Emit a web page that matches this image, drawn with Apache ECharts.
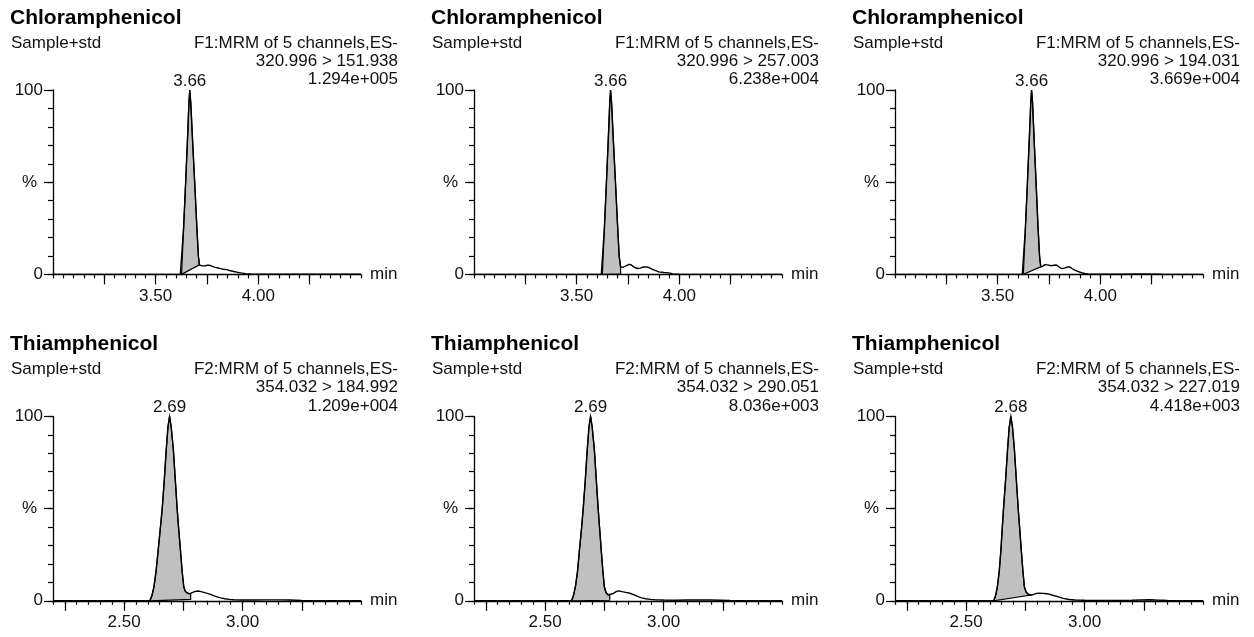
<!DOCTYPE html>
<html><head><meta charset="utf-8">
<script src="https://cdn.jsdelivr.net/npm/echarts@6/dist/echarts.min.js"></script>
<style>html,body{margin:0;padding:0;background:#fff}#c{width:1254px;height:637px}</style>
</head><body><div id="c"></div>
<script>
// ---------- DATA ----------
const compounds = ['Chloramphenicol','Chloramphenicol','Chloramphenicol','Thiamphenicol','Thiamphenicol','Thiamphenicol'];
const sampleNames = ['Sample+std','Sample+std','Sample+std','Sample+std','Sample+std','Sample+std'];
const functions = ['F1:MRM of 5 channels,ES-','F1:MRM of 5 channels,ES-','F1:MRM of 5 channels,ES-','F2:MRM of 5 channels,ES-','F2:MRM of 5 channels,ES-','F2:MRM of 5 channels,ES-'];
const transitions = ['320.996 > 151.938','320.996 > 257.003','320.996 > 194.031','354.032 > 184.992','354.032 > 290.051','354.032 > 227.019'];
const intensities = ['1.294e+005','6.238e+004','3.669e+004','1.209e+004','8.036e+003','4.418e+003'];
const peakRT = [3.666, 3.665, 3.665, 2.692, 2.692, 2.689];
const peakLabels = ['3.66','3.66','3.66','2.69','2.69','2.68'];

// x-axis ranges (min)
const xMinCAP = 3.0, xMaxCAP = 4.5;
const xMinTAP = 2.2, xMaxTAP = 3.5;
const majorTicksCAP = [3.25, 3.5, 3.75, 4.0, 4.25];
const majorTicksTAP = [2.25, 2.5, 2.75, 3.0, 3.25];
const tickLabelsCAP = [3.5, 4.0];
const tickLabelsTAP = [2.5, 3.0];
const yTickLabels = ['0', '%', '100'];

// chromatogram traces [time, % intensity]
const trace1 = [[3.00,0],[3.50,0],[3.62,0],[3.626,0],[3.636,25],[3.646,50],[3.656,76],[3.662,93],[3.666,100],[3.671,93],[3.68,72],[3.69,50],[3.70,27],[3.708,10],[3.713,5.2],[3.725,4.6],[3.74,4.7],[3.755,5.0],[3.767,4.8],[3.78,4.2],[3.79,3.8],[3.80,3.6],[3.815,3.1],[3.83,2.8],[3.847,2.6],[3.86,2.1],[3.88,1.6],[3.896,1.2],[3.915,0.8],[3.937,0.4],[3.96,0.2],[4.0,0.1],[4.2,0.1],[4.5,0.05]];
const trace2 = [[3.00,0],[3.62,0],[3.625,0],[3.635,25],[3.645,50],[3.655,76],[3.661,93],[3.665,100],[3.670,93],[3.679,72],[3.689,50],[3.699,27],[3.707,10],[3.714,4.1],[3.725,3.8],[3.74,4.6],[3.755,5.4],[3.765,5.2],[3.78,4.0],[3.795,3.2],[3.81,3.4],[3.825,4.0],[3.84,4.1],[3.855,3.6],[3.867,2.9],[3.885,2.0],[3.90,1.4],[3.925,1.0],[3.948,0.8],[3.97,0.3],[4.0,0.1],[4.5,0]];
const trace3 = [[3.00,0],[3.62,0],[3.625,0],[3.635,25],[3.645,50],[3.655,76],[3.661,93],[3.665,100],[3.670,93],[3.678,72],[3.687,50],[3.696,27],[3.704,10],[3.710,4.1],[3.72,4.4],[3.73,5.3],[3.738,5.4],[3.748,5.0],[3.762,4.7],[3.775,5.0],[3.786,5.1],[3.80,4.0],[3.81,3.2],[3.825,3.4],[3.84,4.0],[3.851,4.1],[3.862,3.2],[3.875,2.3],[3.89,1.6],[3.908,0.9],[3.925,0.5],[3.94,0.2],[3.97,0.1],[4.1,0.1],[4.2,0.2],[4.3,0.1],[4.5,0]];
const trace4 = [[2.20,0],[2.55,0],[2.609,0],[2.618,3],[2.626,7.6],[2.635,16],[2.644,27.5],[2.652,38],[2.661,50],[2.67,66],[2.678,82],[2.685,94],[2.692,100],[2.699,94],[2.708,82],[2.716,66],[2.724,50],[2.731,38],[2.738,27.5],[2.745,16],[2.752,7.6],[2.758,5.2],[2.765,4.3],[2.772,3.9],[2.781,4.0],[2.79,4.6],[2.80,5.1],[2.812,5.3],[2.825,5.0],[2.84,4.4],[2.855,3.9],[2.865,3.5],[2.88,2.7],[2.893,2.1],[2.907,1.6],[2.925,1.1],[2.945,0.8],[2.963,0.6],[3.0,0.4],[3.05,0.4],[3.1,0.5],[3.15,0.5],[3.2,0.4],[3.25,0.2],[3.3,0.1],[3.5,0]];
const trace5 = [[2.20,0],[2.55,0],[2.612,0],[2.62,3],[2.628,7.6],[2.637,16],[2.645,27.5],[2.653,38],[2.661,50],[2.67,66],[2.678,82],[2.685,94],[2.692,100],[2.699,94],[2.708,82],[2.716,66],[2.724,50],[2.731,38],[2.737,27.5],[2.744,16],[2.75,7.6],[2.757,4.5],[2.765,3.3],[2.773,3.0],[2.785,3.8],[2.80,5.0],[2.811,5.4],[2.825,5.0],[2.84,4.6],[2.855,4.2],[2.865,3.8],[2.88,3.0],[2.893,2.3],[2.907,1.6],[2.925,1.1],[2.945,0.8],[2.963,0.6],[3.0,0.4],[3.05,0.3],[3.1,0.4],[3.2,0.4],[3.28,0.2],[3.35,0.1],[3.5,0]];
const trace6 = [[2.20,0],[2.55,0],[2.617,0],[2.625,3],[2.632,7.6],[2.64,16],[2.647,27.5],[2.652,38],[2.658,50],[2.667,66],[2.675,82],[2.682,94],[2.689,100],[2.696,94],[2.704,82],[2.712,66],[2.72,50],[2.727,38],[2.733,27.5],[2.74,16],[2.746,7.6],[2.753,4.8],[2.762,3.6],[2.773,3.1],[2.785,3.5],[2.797,4.0],[2.81,4.1],[2.825,4.0],[2.84,3.8],[2.851,3.6],[2.865,3.0],[2.88,2.5],[2.893,2.0],[2.91,1.3],[2.935,0.7],[2.96,0.4],[3.0,0.3],[3.1,0.2],[3.2,0.3],[3.273,0.6],[3.3,0.4],[3.35,0.2],[3.5,0]];

// integrated peak: [start time, end time, baseline at start, baseline at end]
const integ1 = [3.626, 3.713, 0, 5.2];
const integ2 = [3.625, 3.714, 0, 0.3];
const integ3 = [3.625, 3.710, 0, 4.1];
const integ4 = [2.609, 2.781, 0, 0.8];
const integ5 = [2.612, 2.773, 0, 0.3];
const integ6 = [2.617, 2.773, 0, 3.1];

// ---------- BUILD ----------
const traces = [trace1, trace2, trace3, trace4, trace5, trace6];
const integs = [integ1, integ2, integ3, integ4, integ5, integ6];
const FONT = "'Liberation Sans', Arial, sans-serif";
const TXT = '#111';
const FS = 17;
const colOff = [0, 421, 842];
const rowOff = [0, 326.4];

const grid = [], xAxis = [], yAxis = [], series = [], graphic = [];

for (let k = 0; k < 6; k++) {
  const cx = colOff[k % 3], ry = rowOff[Math.floor(k / 3)];
  const isCAP = k < 3;
  grid.push({ left: 53 + cx, top: 90 + ry, width: 308, height: 184.4 });
  const xmin = isCAP ? xMinCAP : xMinTAP, xmax = isCAP ? xMaxCAP : xMaxTAP;
  xAxis.push({
    type: 'value', gridIndex: k, min: xmin, max: xmax, interval: 0.05, position: 'bottom',
    axisLine: { show: true, onZero: false, lineStyle: { color: '#000', width: 1.3 } },
    axisTick: { show: true, length: 4, lineStyle: { color: '#000', width: 1.2 } },
    axisLabel: { show: false }, splitLine: { show: false },
    name: 'min', nameLocation: 'end', nameGap: 9,
    nameTextStyle: { color: TXT, fontSize: FS, fontFamily: FONT, verticalAlign: 'middle' }
  });
  xAxis.push({
    type: 'value', gridIndex: k, min: xmin, max: xmax, position: 'bottom',
    axisLine: { show: false },
    axisTick: { show: true, length: 10, customValues: isCAP ? majorTicksCAP : majorTicksTAP, lineStyle: { color: '#000', width: 1.2 } },
    axisLabel: { show: true, customValues: isCAP ? tickLabelsCAP : tickLabelsTAP, formatter: v => v.toFixed(2), margin: 13, color: TXT, fontSize: FS, fontFamily: FONT },
    splitLine: { show: false }
  });
  yAxis.push({
    type: 'value', gridIndex: k, min: 0, max: 100, interval: 10, position: 'left',
    axisLine: { show: true, onZero: false, lineStyle: { color: '#000', width: 1.3 } },
    axisTick: { show: true, length: 5, lineStyle: { color: '#000', width: 1.2 } },
    axisLabel: { show: false }, splitLine: { show: false }
  });
  yAxis.push({
    type: 'value', gridIndex: k, min: 0, max: 100, interval: 50, position: 'left',
    axisLine: { show: false },
    axisTick: { show: true, length: 9, lineStyle: { color: '#000', width: 1.2 } },
    axisLabel: {
      show: true, margin: 10, color: TXT, fontSize: FS, fontFamily: FONT,
      formatter: v => v === 50 ? '{p|' + yTickLabels[1] + '}' : (v === 0 ? yTickLabels[0] : yTickLabels[2]),
      rich: { p: { padding: [0, 6, 0, 0], fontSize: FS, fontFamily: FONT, color: TXT } }
    },
    splitLine: { show: false }
  });

  const tr = traces[k], ig = integs[k];
  series.push({
    type: 'custom', xAxisIndex: 2 * k, yAxisIndex: 2 * k, silent: true, z: 2,
    data: [[ig[0], ig[2]]],
    renderItem: (params, api) => {
      const pts = tr.filter(p => p[0] >= ig[0] && p[0] <= ig[1]).map(p => api.coord(p));
      pts.push(api.coord([ig[1], ig[3]]));
      pts.push(api.coord([ig[0], ig[2]]));
      return { type: 'polygon', shape: { points: pts }, style: { fill: '#c0c0c0', stroke: '#000', lineWidth: 1.2 } };
    }
  });
  series.push({
    type: 'line', xAxisIndex: 2 * k, yAxisIndex: 2 * k, data: tr, showSymbol: false, symbol: 'none',
    lineStyle: { color: '#000', width: 1.4 }, z: 3, silent: true,
    markPoint: {
      symbol: 'rect', symbolSize: [1, 1], itemStyle: { color: 'rgba(0,0,0,0)' }, silent: true,
      data: [{ coord: [peakRT[k], 100], value: peakLabels[k] }],
      label: { show: true, position: 'top', distance: 0, formatter: peakLabels[k], color: TXT, fontSize: FS, fontFamily: FONT }
    }
  });

  graphic.push({ type: 'text', x: 10 + cx, y: 18 + ry, style: { text: compounds[k], fontSize: 21, fontWeight: 'bold', fontFamily: FONT, fill: '#000', verticalAlign: 'middle' } });
  graphic.push({ type: 'text', x: 11 + cx, y: 43 + ry, style: { text: sampleNames[k], fontSize: FS, fontFamily: FONT, fill: TXT, verticalAlign: 'middle' } });
  graphic.push({ type: 'text', x: 398 + cx, y: 43 + ry, style: { text: functions[k], fontSize: FS, fontFamily: FONT, fill: TXT, align: 'right', verticalAlign: 'middle' } });
  graphic.push({ type: 'text', x: 398 + cx, y: 61 + ry, style: { text: transitions[k], fontSize: FS, fontFamily: FONT, fill: TXT, align: 'right', verticalAlign: 'middle' } });
  graphic.push({ type: 'text', x: 398 + cx, y: 79.5 + ry, style: { text: intensities[k], fontSize: FS, fontFamily: FONT, fill: TXT, align: 'right', verticalAlign: 'middle' } });
}

const chart = echarts.init(document.getElementById('c'), null, { renderer: 'canvas' });
chart.setOption({ animation: false, backgroundColor: '#fff', grid, xAxis, yAxis, series, graphic });
</script></body></html>
